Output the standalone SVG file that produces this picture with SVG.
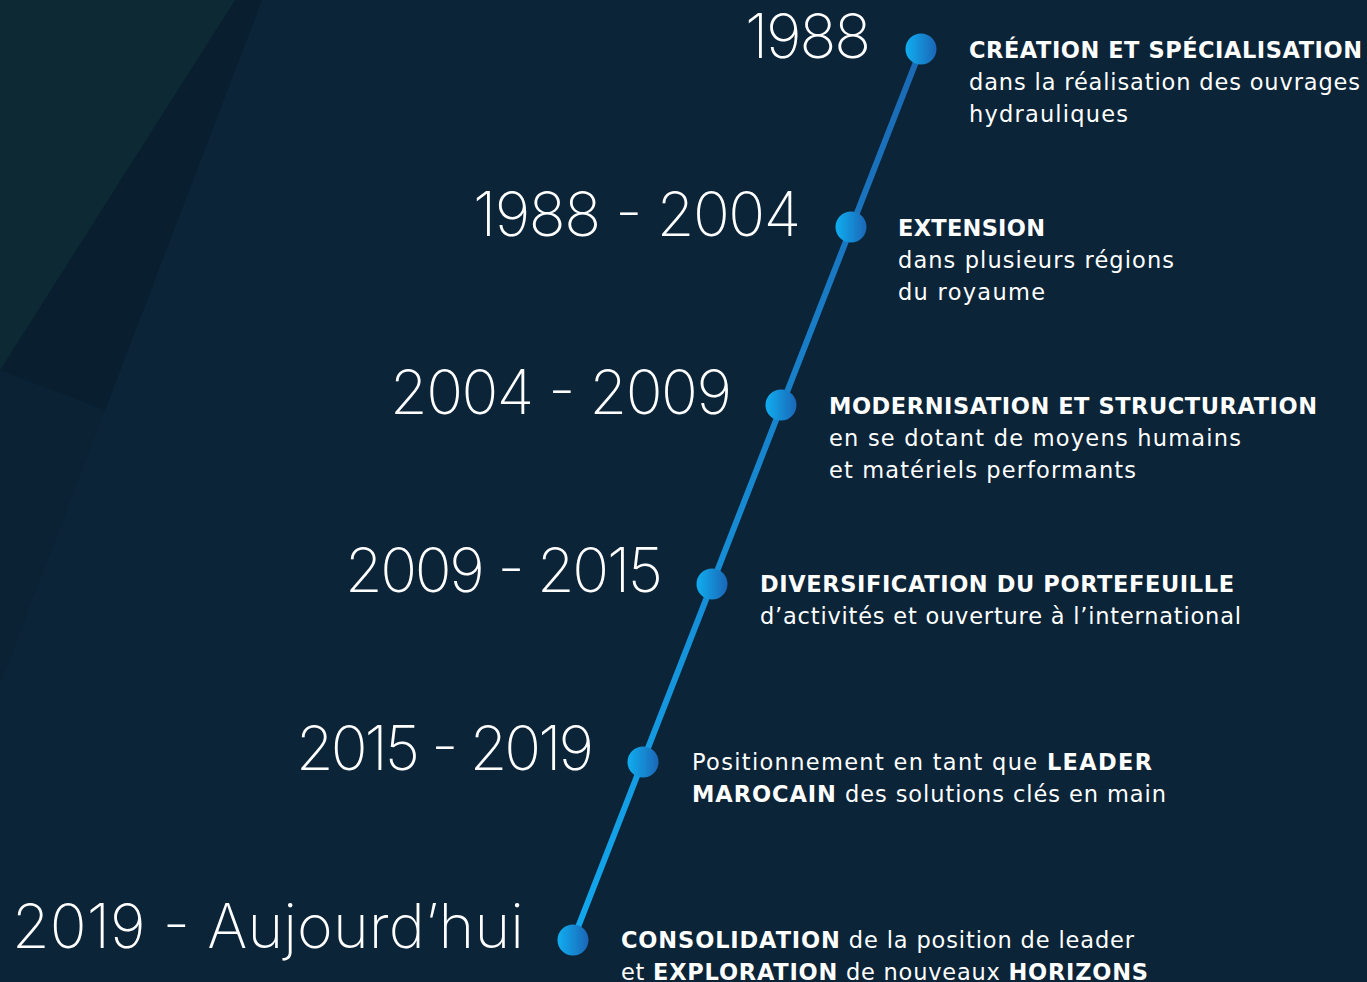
<svg xmlns="http://www.w3.org/2000/svg" width="1367" height="982" viewBox="0 0 1367 982">
  <defs>
    <linearGradient id="lineGrad" gradientUnits="userSpaceOnUse" x1="921" y1="49" x2="573" y2="940">
      <stop offset="0" stop-color="#1b69b4"/>
      <stop offset="1" stop-color="#12a8ee"/>
    </linearGradient>
    <linearGradient id="dotGrad" x1="0" y1="0" x2="1" y2="0">
      <stop offset="0" stop-color="#10aef0"/>
      <stop offset="1" stop-color="#1b66b6"/>
    </linearGradient>
    <style>
      .year { font-family: Inter, "Liberation Sans", sans-serif; font-weight: 200; font-size: 61px; fill: #ffffff; }
      .desc { font-family: "DejaVu Sans", "Liberation Sans", sans-serif; font-weight: 400; font-size: 22.5px; fill: #ffffff; }
      .b { font-weight: 700; }
      .dot { fill: url(#dotGrad); }
    </style>
  </defs>

  <!-- background -->
  <rect x="0" y="0" width="1367" height="982" fill="#0b2438"/>
  <polygon points="262,0 0,684 0,370 105,410" fill="#0a2233"/>
  <polygon points="235,0 262,0 105,410 0,370" fill="#091f2f"/>
  <polygon points="0,0 235,0 0,370" fill="#0d2934"/>

  <!-- timeline axis -->
  <g id="connectors">
    <line x1="921" y1="49" x2="573" y2="940" stroke="url(#lineGrad)" stroke-width="6" stroke-linecap="round"/>
  </g>

  <g id="node-1988">
    <circle class="dot" cx="921" cy="49" r="15.5"/>
    <text class="year" x="745" y="58" textLength="126">1988</text>
    <text class="desc" x="969" y="58" textLength="393"><tspan class="b">CRÉATION ET SPÉCIALISATION</tspan></text>
    <text class="desc" x="969" y="90" textLength="391">dans la réalisation des ouvrages</text>
    <text class="desc" x="969" y="122" textLength="159">hydrauliques</text>
  </g>

  <g id="node-1988-2004">
    <circle class="dot" cx="851" cy="227" r="15.5"/>
    <text class="year" x="473" y="236" textLength="328">1988 - 2004</text>
    <text class="desc" x="898" y="236" textLength="147"><tspan class="b">EXTENSION</tspan></text>
    <text class="desc" x="898" y="268" textLength="276">dans plusieurs régions</text>
    <text class="desc" x="898" y="300" textLength="147">du royaume</text>
  </g>

  <g id="node-2004-2009">
    <circle class="dot" cx="781" cy="405" r="15.5"/>
    <text class="year" x="390" y="414" textLength="342">2004 - 2009</text>
    <text class="desc" x="829" y="414" textLength="488"><tspan class="b">MODERNISATION ET STRUCTURATION</tspan></text>
    <text class="desc" x="829" y="446" textLength="412">en se dotant de moyens humains</text>
    <text class="desc" x="829" y="478" textLength="307">et matériels performants</text>
  </g>

  <g id="node-2009-2015">
    <circle class="dot" cx="712" cy="584" r="15.5"/>
    <text class="year" x="345" y="592" textLength="318">2009 - 2015</text>
    <text class="desc" x="760" y="592" textLength="474"><tspan class="b">DIVERSIFICATION DU PORTEFEUILLE</tspan></text>
    <text class="desc" x="760" y="624" textLength="481">d’activités et ouverture à l’international</text>
  </g>

  <g id="node-2015-2019">
    <circle class="dot" cx="643" cy="762" r="15.5"/>
    <text class="year" x="296" y="770" textLength="298">2015 - 2019</text>
    <text class="desc" x="692" y="770" textLength="460">Positionnement en tant que <tspan class="b">LEADER</tspan></text>
    <text class="desc" x="692" y="802" textLength="474"><tspan class="b">MAROCAIN</tspan> des solutions clés en main</text>
  </g>

  <g id="node-2019">
    <circle class="dot" cx="573" cy="940" r="15.5"/>
    <text class="year" x="12" y="948" textLength="512">2019 - Aujourd’hui</text>
    <text class="desc" x="621" y="948" textLength="513"><tspan class="b">CONSOLIDATION</tspan> de la position de leader</text>
    <text class="desc" x="621" y="980" textLength="527">et <tspan class="b">EXPLORATION</tspan> de nouveaux <tspan class="b">HORIZONS</tspan></text>
  </g>
</svg>
